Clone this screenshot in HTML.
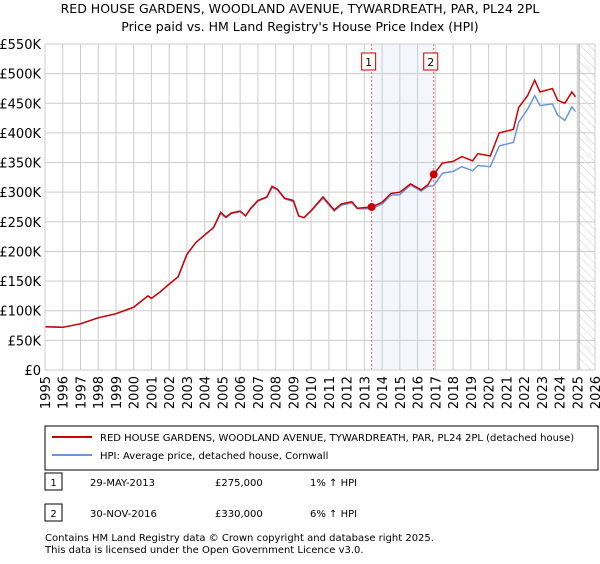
<!DOCTYPE html>
<html><head><meta charset="utf-8"><style>
body{margin:0;background:#fff;font-family:"DejaVu Sans","Liberation Sans",sans-serif;}
svg text{font-family:"DejaVu Sans","Liberation Sans",sans-serif;}
</style></head><body>
<svg id="c" width="600" height="560" viewBox="0 0 600 560">
<defs><pattern id="hatch" width="6" height="6" patternUnits="userSpaceOnUse" patternTransform="rotate(-45)"><line x1="0" y1="0" x2="0" y2="6" stroke="#ccc" stroke-width="1"/></pattern></defs>
<text x="300" y="13" text-anchor="middle" font-size="12.5">RED HOUSE GARDENS, WOODLAND AVENUE, TYWARDREATH, PAR, PL24 2PL</text>
<text x="300" y="31" text-anchor="middle" font-size="12.5">Price paid vs. HM Land Registry's House Price Index (HPI)</text>
<g id="plot"></g>
<rect x="45" y="426" width="553" height="44" fill="#fff" stroke="#000"/>
<line x1="52" y1="437" x2="92" y2="437" stroke="#cc0000" stroke-width="2"/>
<text x="100" y="441" font-size="10">RED HOUSE GARDENS, WOODLAND AVENUE, TYWARDREATH, PAR, PL24 2PL (detached house)</text>
<line x1="52" y1="455" x2="92" y2="455" stroke="#6a97d6" stroke-width="2"/>
<text x="100" y="459" font-size="10">HPI: Average price, detached house, Cornwall</text>
<g>
<rect x="45" y="473" width="17" height="17" fill="#fff" stroke="#000"/><text x="53.5" y="486" text-anchor="middle" font-size="10">1</text>
<text x="90" y="486" font-size="10">29-MAY-2013</text><text x="215" y="486" font-size="10">£275,000</text><text x="310" y="486" font-size="10">1% ↑ HPI</text></g>
<g>
<rect x="45" y="504" width="17" height="17" fill="#fff" stroke="#000"/><text x="53.5" y="517" text-anchor="middle" font-size="10">2</text>
<text x="90" y="517" font-size="10">30-NOV-2016</text><text x="215" y="517" font-size="10">£330,000</text><text x="310" y="517" font-size="10">6% ↑ HPI</text></g>
<text x="45" y="541" font-size="10">Contains HM Land Registry data © Crown copyright and database right 2025.</text>
<text x="45" y="553" font-size="10">This data is licensed under the Open Government Licence v3.0.</text>
</svg>
<script>
const years=[1995,1996,1997,1998,1999,2000,2000.8,2001.0,2001.5,2002,2002.5,2003,2003.5,2004,2004.5,2004.9,2005.2,2005.5,2006,2006.3,2006.6,2007,2007.5,2007.8,2008.1,2008.5,2009,2009.3,2009.6,2010.0,2010.67,2011.3,2011.7,2012.3,2012.6,2013.0,2013.41,2014.0,2014.5,2015.0,2015.6,2016.2,2016.6,2016.91,2017.4,2018.0,2018.5,2019.1,2019.4,2020.1,2020.6,2021.4,2021.7,2022.2,2022.6,2022.9,2023.6,2023.9,2024.3,2024.7,2024.9];
const hpiValues=[73,72,78,88,95,106,125,121,132,145,157,195,215,228,240,264,257,264,267,260,272,285,291,308,304,289,284,260,257,268,290,268,278,282,272,272,272,280,295,296,312,302,310,311,332,335,343,336,345,343,378,384,418,440,463,446,449,430,421,444,436];
const priceValues=[73,72,78,88,95,106,125,121,132,145,157,195,215,228,240,266,258,265,268,260,273,286,292,310,305,290,286,260,257,269,292,270,280,284,273,274,275,283,298,300,314,304,313,330,349,352,360,353,365,361,400,406,443,463,489,469,475,455,450,469,461];
const sales=[{t:2013.41,v:275,label:"1"},{t:2016.91,v:330,label:"2"}];
const yTicks=[0,50,100,150,200,250,300,350,400,450,500,550];
const xTicks=[1995,1996,1997,1998,1999,2000,2001,2002,2003,2004,2005,2006,2007,2008,2009,2010,2011,2012,2013,2014,2015,2016,2017,2018,2019,2020,2021,2022,2023,2024,2025,2026];
const X0=45,X1=595,Y0=370,Y1=44;
const x=t=>X0+(t-1995)/(2026-1995)*(X1-X0);
const y=v=>Y0-v/550*(Y0-Y1);
const NS="http://www.w3.org/2000/svg",g=document.getElementById('plot');
function el(tag,a,p){const e=document.createElementNS(NS,tag);for(const k in a)e.setAttribute(k,a[k]);(p||g).appendChild(e);return e;}
let r=el('rect',{x:x(2013.41),y:Y1,width:x(2016.91)-x(2013.41),height:Y0-Y1,fill:'#eef3fc',opacity:0.7});


let h=el('rect',{x:x(2025.1),y:Y1,width:X1-x(2025.1),height:Y0-Y1,fill:'url(#hatch)'});


yTicks.forEach(v=>{let l=el('line',{x1:X0,x2:X1,y1:y(v),y2:y(v),stroke:'#ccc'});


let t=el('text',{x:X0-4,y:y(v)+5,'text-anchor':'end','font-size':13});t.textContent=v===0?'£0':'£'+v+'K';

});
xTicks.forEach(v=>{let l=el('line',{x1:x(v),x2:x(v),y1:Y1,y2:Y0,stroke:'#ccc'});


let t=el('text',{x:0,y:0,'text-anchor':'end','font-size':13,transform:`translate(${x(v)+5},${Y0+6}) rotate(-90)`});t.textContent=v;

});
let vl=el('line',{x1:x(2025.1),x2:x(2025.1),y1:Y1,y2:Y0,stroke:'#999','stroke-width':1});


const pts=a=>a.map((v,i)=>x(years[i]).toFixed(1)+','+y(v).toFixed(1)).join(' ');
let bl=el('polyline',{points:pts(hpiValues),fill:'none',stroke:'#6a97d6','stroke-width':1.5});


let rl=el('polyline',{points:pts(priceValues),fill:'none',stroke:'#cc0000','stroke-width':1.5});


sales.forEach(s=>{let d=el('line',{x1:x(s.t),x2:x(s.t),y1:Y1,y2:Y0,stroke:'#f06060','stroke-dasharray':'2,2'});


let c=el('circle',{cx:x(s.t),cy:y(s.v),r:4,fill:'#cc0000'});


let b=el('rect',{x:x(s.t)-10,y:53,width:14,height:17,fill:'#fff',stroke:'#cc0000'});


let t=el('text',{x:x(s.t)-3,y:66,'text-anchor':'middle','font-size':11});t.textContent=s.label;

});
let bd=el('rect',{x:X0,y:Y1,width:X1-X0,height:Y0-Y1,fill:'none',stroke:'#ccc'});


</script>
</body></html>
